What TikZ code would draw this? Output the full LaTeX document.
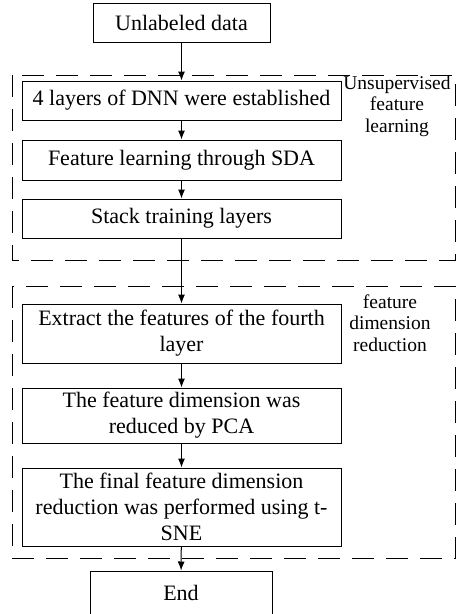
\documentclass[tikz,border=0pt]{standalone}
\usepackage{fontspec}
\setmainfont{Liberation Serif}
\usetikzlibrary{arrows.meta}
\begin{document}
\begin{tikzpicture}[x=1pt,y=-1pt,
  flowbox/.style={draw,line width=1pt,inner sep=0pt,align=center,
    font=\fontsize{22}{26}\selectfont},
  grpbox/.style={draw,line width=1pt,dash pattern=on 22pt off 12pt},
  sidelbl/.style={align=center,inner sep=0pt,font=\fontsize{19.5}{21.5}\selectfont},
  flowarrow/.style={line width=1pt,-{Latex[length=9pt,width=7pt]}}]
\useasboundingbox (0,0) rectangle (456,614);
\draw[grpbox] (12,75) rectangle (455,260);
\draw[grpbox] (12,286) rectangle (455,558);
\node[flowbox,minimum width=177pt,minimum height=39pt] (u) at (181.5,22.5) {Unlabeled data};
\node[flowbox,minimum width=319pt,minimum height=39pt] (b1) at (181.5,100.5) {4 layers of DNN were established};
\node[flowbox,minimum width=319pt,minimum height=40pt] (b2) at (181.5,160) {Feature learning through SDA};
\node[flowbox,minimum width=319pt,minimum height=39pt] (b3) at (181.5,218.5) {Stack training layers};
\node[flowbox,minimum width=319pt,minimum height=59pt] (b4) at (181.5,333.5) {Extract the features of the fourth\\layer};
\node[flowbox,minimum width=319pt,minimum height=55pt] (b5) at (181.5,415.5) {The feature dimension was\\reduced by PCA};
\node[flowbox,minimum width=319pt,minimum height=78pt] (b6) at (181.5,507) {The final feature dimension\\reduction was performed using t-\\SNE};
\node[flowbox,minimum width=182pt,minimum height=44pt] (e) at (181,593) {End};
\node[sidelbl] (l1) at (397,106) {Unsupervised\\feature\\learning};
\node[sidelbl] (l2) at (390,323) {feature\\dimension\\reduction};
\draw[flowarrow] (u) -- (b1);
\draw[flowarrow] (b1) -- (b2);
\draw[flowarrow] (b2) -- (b3);
\draw[flowarrow] (b3) -- (b4);
\draw[flowarrow] (b4) -- (b5);
\draw[flowarrow] (b5) -- (b6);
\draw[flowarrow] (b6) -- (e);
\end{tikzpicture}
\end{document}
